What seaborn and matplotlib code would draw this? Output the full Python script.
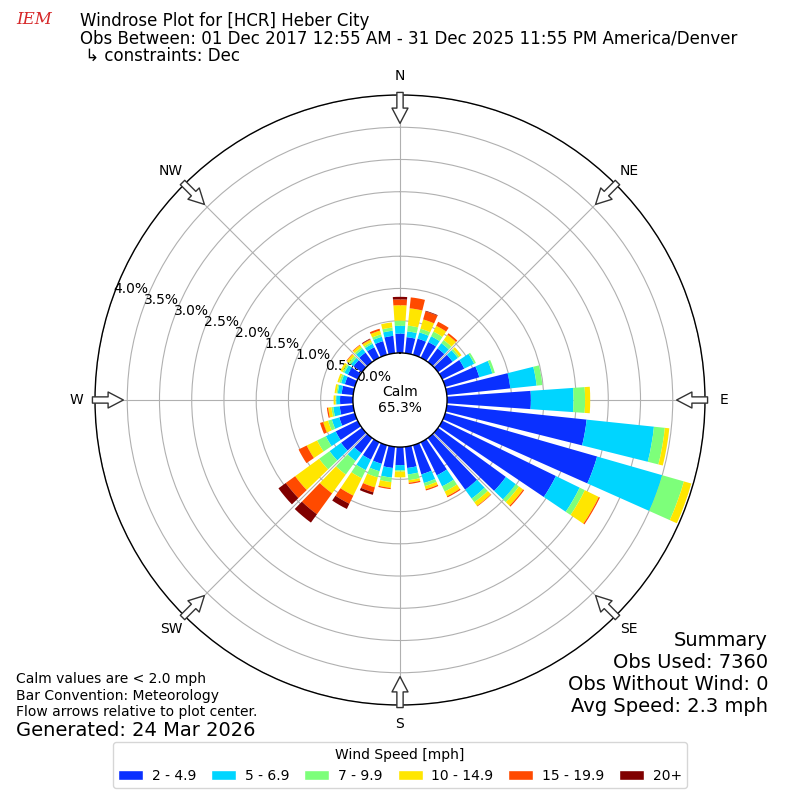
import numpy as np
import seaborn as sns
import matplotlib.pyplot as plt
from matplotlib.patches import Patch

sns.set_style("white")
plt.rcParams['font.family'] = ['DejaVu Sans']
plt.rcParams['text.color'] = 'black'
plt.rcParams['axes.labelcolor'] = 'black'
plt.rcParams['xtick.color'] = 'black'
plt.rcParams['ytick.color'] = 'black'

# direction bins (deg, meteorological "from")
directions = list(range(0, 360, 10))

# percent of observations per direction, one list per speed bin
speed_labels = ["2 - 4.9", "5 - 6.9", "7 - 9.9", "10 - 14.9", "15 - 19.9", "20+"]
spd_2_5 = [0.30, 0.25, 0.26, 0.27, 0.26, 0.28, 0.38, 0.55, 0.99, 1.30, 2.18, 2.45,
           1.96, 1.30, 0.99, 0.57, 0.47, 0.33, 0.28, 0.33, 0.30, 0.30, 0.29, 0.40,
           0.38, 0.25, 0.21, 0.20, 0.18, 0.16, 0.17, 0.16, 0.18, 0.18, 0.22, 0.27]
spd_5_7 = [0.12, 0.09, 0.10, 0.10, 0.10, 0.10, 0.17, 0.21, 0.41, 0.66, 1.05, 1.05,
           0.41, 0.19, 0.17, 0.19, 0.14, 0.10, 0.08, 0.15, 0.12, 0.18, 0.15, 0.22,
           0.17, 0.12, 0.10, 0.06, 0.06, 0.06, 0.06, 0.05, 0.07, 0.06, 0.07, 0.08]
spd_7_10 = [0.08, 0.09, 0.06, 0.08, 0.06, 0.03, 0.03, 0.04, 0.09, 0.18, 0.17, 0.35,
            0.09, 0.06, 0.07, 0.09, 0.05, 0.09, 0.02, 0.07, 0.10, 0.14, 0.26, 0.20,
            0.15, 0.06, 0.03, 0.01, 0.02, 0.03, 0.03, 0.04, 0.03, 0.03, 0.04, 0.05]
spd_10_15 = [0.24, 0.27, 0.15, 0.10, 0.10, 0.04, 0.00, 0.00, 0.00, 0.08, 0.07, 0.12,
             0.24, 0.08, 0.07, 0.08, 0.05, 0.04, 0.09, 0.09, 0.16, 0.30, 0.36, 0.46,
             0.18, 0.08, 0.05, 0.03, 0.03, 0.03, 0.04, 0.04, 0.04, 0.04, 0.06, 0.08]
spd_15_20 = [0.09, 0.17, 0.13, 0.07, 0.03, 0.00, 0.00, 0.00, 0.00, 0.00, 0.00, 0.00,
             0.02, 0.02, 0.01, 0.02, 0.02, 0.02, 0.00, 0.02, 0.08, 0.14, 0.40, 0.18,
             0.14, 0.05, 0.02, 0.00, 0.00, 0.00, 0.00, 0.01, 0.01, 0.01, 0.03, 0.00]
spd_20 = [0.04, 0.00, 0.01, 0.00, 0.00, 0.00, 0.00, 0.00, 0.00, 0.00, 0.00, 0.00,
          0.00, 0.00, 0.00, 0.00, 0.00, 0.00, 0.00, 0.00, 0.04, 0.09, 0.16, 0.14,
          0.00, 0.00, 0.00, 0.00, 0.00, 0.00, 0.00, 0.00, 0.00, 0.01, 0.00, 0.00]
speed_bins = [spd_2_5, spd_5_7, spd_7_10, spd_10_15, spd_15_20, spd_20]

ring_ticks = [0.0, 0.5, 1.0, 1.5, 2.0, 2.5, 3.0, 3.5, 4.0]
compass = ["N", "NE", "E", "SE", "S", "SW", "W", "NW"]
calm_pct = 65.3

colors = sns.color_palette(["#0a30ff", "#00d5ff", "#7dff7a", "#ffe600", "#ff4a00", "#800000"])

fig = plt.figure(figsize=(8, 8), dpi=100)
ax = fig.add_axes([0.11875, 0.11875, 0.7625, 0.7625], projection='polar')
ax.set_theta_zero_location('N')
ax.set_theta_direction(-1)

theta = np.deg2rad(directions)
width = np.deg2rad(8.0)
base = np.zeros(len(directions))
for vals, c in zip(speed_bins, colors):
    vals = np.array(vals)
    ax.bar(theta, vals, width=width, bottom=base, color=c, linewidth=0, zorder=2)
    base = base + vals

ax.set_rorigin(-0.73)
ax.set_ylim(0, 4.0)
ax.set_yticks(ring_ticks)
ax.set_yticklabels(["%.1f%%" % t for t in ring_ticks], fontsize=10)
ax.set_rlabel_position(290)
ax.set_xticks(np.deg2rad(np.arange(0, 360, 45)))
ax.set_xticklabels(compass, fontsize=10)
ax.tick_params(axis='x', pad=3)
ax.grid(True, color='#b0b0b0', linewidth=0.8, zorder=1)
ax.set_axisbelow(True)
for sp in ax.spines.values():
    sp.set_edgecolor('black')
    sp.set_linewidth(1.0)

# hollow flow arrows on the rim
for ang in np.arange(0, 360, 45):
    t = np.deg2rad(ang)
    ax.annotate("", xy=(t, 3.56), xytext=(t, 4.04), xycoords='data',
                arrowprops=dict(arrowstyle="simple,head_length=1.1,head_width=1.15,tail_width=0.45",
                                fc='white', ec='#333333', lw=1.0, shrinkA=0, shrinkB=0,
                                mutation_scale=10),
                annotation_clip=False, zorder=5)

fig.text(0.5, 0.5, "Calm\n%.1f%%" % calm_pct, ha='center', va='center', fontsize=10)

# header
fig.text(0.02, 0.975, "IEM", color='#d62728', fontsize=12, fontstyle='italic',
         family='DejaVu Serif', va='center')
fig.text(0.1, 0.974, "Windrose Plot for [HCR] Heber City", fontsize=12, va='center')
fig.text(0.1, 0.952, "Obs Between: 01 Dec 2017 12:55 AM - 31 Dec 2025 11:55 PM America/Denver",
         fontsize=12, va='center')
fig.text(0.1, 0.930, " \u21b3 constraints: Dec", fontsize=12, va='center')

# footer notes
fig.text(0.02, 0.151, "Calm values are < 2.0 mph", fontsize=10, va='center')
fig.text(0.02, 0.130, "Bar Convention: Meteorology", fontsize=10, va='center')
fig.text(0.02, 0.110, "Flow arrows relative to plot center.", fontsize=10, va='center')
fig.text(0.02, 0.0875, "Generated: 24 Mar 2026", fontsize=14, va='center')

summary = ["Summary", "Obs Used: 7360", "Obs Without Wind: 0", "Avg Speed: 2.3 mph"]
for i, s in enumerate(summary):
    fig.text(0.96, 0.200 - i * 0.0275, s, fontsize=14, ha='right', va='center')

handles = [Patch(facecolor=c, label=l) for c, l in zip(colors, speed_labels)]
fig.legend(handles=handles, loc='lower center', bbox_to_anchor=(0.5, 0.006), ncol=6,
           title="Wind Speed [mph]", fontsize=10, title_fontsize=10, frameon=True,
           handlelength=1.8, handletextpad=0.6, columnspacing=1.1)

fig.savefig("out.png", dpi=100)
